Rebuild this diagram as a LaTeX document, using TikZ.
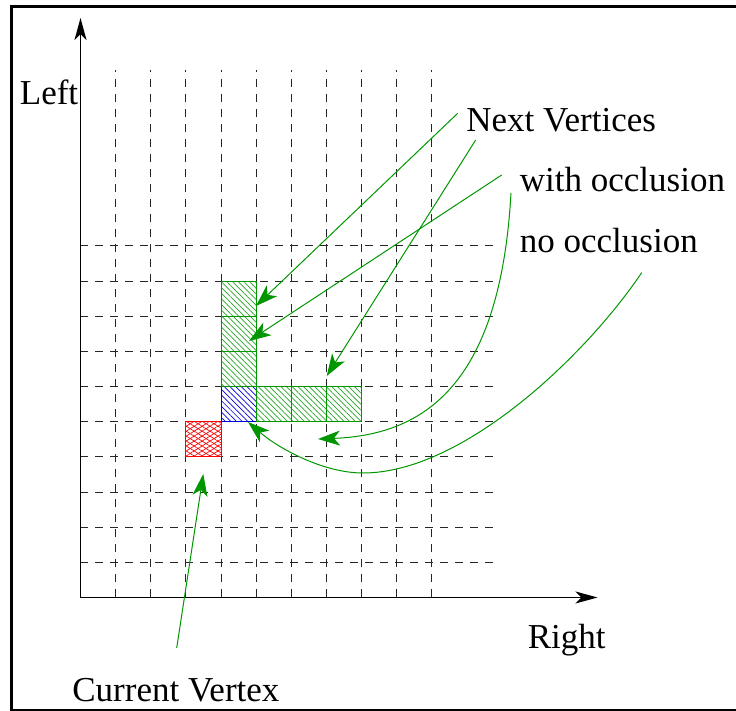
\documentclass[tikz,border=0pt]{standalone}
\usepackage{fontspec}
\setmainfont{Liberation Serif}
\usetikzlibrary{arrows.meta,patterns.meta}
\definecolor{xgreen}{RGB}{0,150,0}
\definecolor{xred}{RGB}{255,0,0}
\definecolor{xblue}{RGB}{0,0,220}
\tikzset{
  gridline/.style={black!85, line width=0.5pt, dash pattern=on 4pt off 3.5pt},
  axisline/.style={black, line width=0.7pt, -{Stealth[length=11pt,width=6pt,inset=3pt]}},
  pointer/.style={xgreen, line width=0.5pt, -{Stealth[length=11pt,width=7.5pt,inset=3pt]}},
  lbl/.style={inner sep=0pt, anchor=base west, font=\fontsize{17.5pt}{21pt}\selectfont},
  gcell/.style={draw=xgreen, line width=0.55pt, pattern={Lines[angle=-45,distance=2pt,line width=0.35pt]}, pattern color=xgreen!85},
  bcell/.style={draw=xblue, line width=0.55pt, pattern={Lines[angle=-45,distance=2pt,line width=0.35pt]}, pattern color=xblue},
  rhatchA/.style={pattern={Lines[angle=32,distance=2.1pt,line width=0.35pt]}, pattern color=xred},
  rhatchB/.style={pattern={Lines[angle=-32,distance=2.1pt,line width=0.35pt]}, pattern color=xred},
  frame/.style={black, line width=1.6pt}
}
\begin{document}
\begin{tikzpicture}[x=0.5pt, y=-0.5pt]
\useasboundingbox (0,0) rectangle (736,711);
\clip (0,0) rectangle (736,711);
% frame
\draw[frame] (800,6.5) -- (11.5,6.5) -- (11.5,710.5) -- (800,710.5);
% grid
\foreach \k in {1,...,10} {
  \draw[gridline] ({80.5+35.15*\k},597.5) -- ({80.5+35.15*\k},70);
  \draw[gridline] (80.5,{597.5-35.15*\k}) -- (495,{597.5-35.15*\k});
}
% axes
\coordinate (O) at (80.5,597.5);
\coordinate (ytip) at (80.5,18);
\coordinate (xtip) at (597.5,597.5);
\draw[axisline] (O) -- (ytip);
\draw[axisline] (O) -- (xtip);
% cells
\begin{scope}[shift={(80.5,597.5)}, x=17.575pt, y=17.575pt]
  \path[rhatchA] (3,4) rectangle (4,5);
  \path[rhatchB] (3,4) rectangle (4,5);
  \draw[xred, line width=0.55pt] (3,4) rectangle (4,5);
  \draw[bcell] (4,5) rectangle (5,6);
  \draw[gcell] (4,6) rectangle (5,7);
  \draw[gcell] (4,7) rectangle (5,8);
  \draw[gcell] (4,8) rectangle (5,9);
  \draw[gcell] (5,5) rectangle (6,6);
  \draw[gcell] (6,5) rectangle (7,6);
  \draw[gcell] (7,5) rectangle (8,6);
\end{scope}
% labels
\node[lbl] (left) at (19.5,105) {Left};
\node[lbl] (nextv) at (466,131.5) {Next Vertices};
\node[lbl] (withocc) at (519.5,191.5) {with occlusion};
\node[lbl] (noocc) at (519.5,253) {no occlusion};
\node[lbl] (right) at (527.5,649) {Right};
\node[lbl] (curv) at (72,701.5) {Current Vertex};
% pointer ends
\coordinate (s1) at (457.7,113.3);
\coordinate (t1) at (256,306);
\coordinate (s2) at (475.7,140);
\coordinate (t2) at (326.7,376);
\coordinate (s3) at (501.7,175);
\coordinate (t3) at (249,341);
\coordinate (s4) at (176.7,648);
\coordinate (t4) at (203.3,474);
\coordinate (s5) at (511,193);
\coordinate (t5) at (318,439);
\coordinate (s6) at (641.7,272.7);
\coordinate (m6) at (363,473);
\coordinate (t6) at (248,422);
% pointers
\draw[pointer] (s1) -- (t1);
\draw[pointer] (s2) -- (t2);
\draw[pointer] (s3) -- (t3);
\draw[pointer] (s4) -- (t4);
\draw[pointer] (s5) .. controls (500,390) and (420,435) .. (t5);
\draw[pointer] (s6) .. controls (585.7,355.7) and (463,473) .. (m6)
                    .. controls (323,473) and (278.3,448.2) .. (t6);
\end{tikzpicture}
\end{document}
